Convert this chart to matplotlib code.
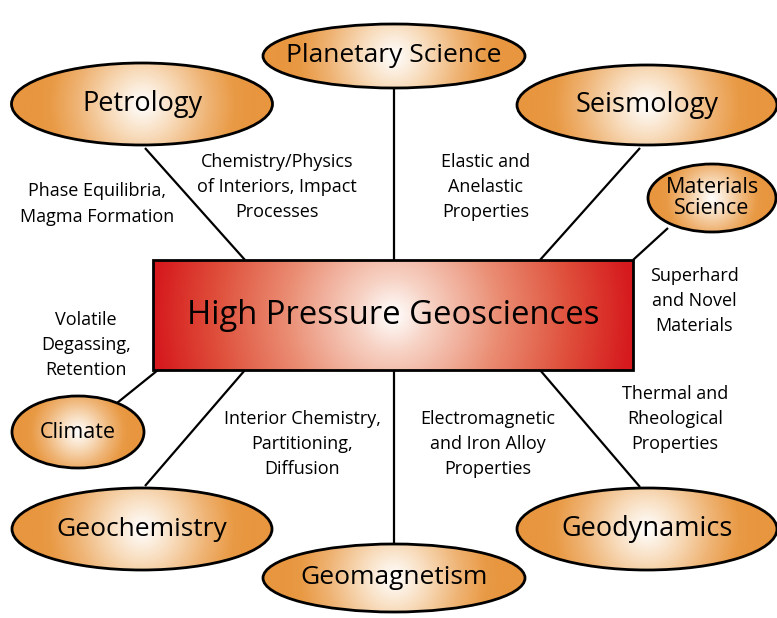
import numpy as np
import matplotlib
matplotlib.use("Agg")
import matplotlib.pyplot as plt
from matplotlib.patches import Ellipse, Rectangle
from matplotlib.colors import LinearSegmentedColormap

plt.rcParams['font.family'] = ['Open Sans', 'DejaVu Sans']

# --- nodes (pixel coords, y down) ---
node_names = ["Planetary Science", "Petrology", "Seismology", "Materials\nScience",
              "Climate", "Geochemistry", "Geomagnetism", "Geodynamics"]
node_x = [394, 142, 647, 712, 78, 142, 394, 647]
node_y = [56, 104, 105, 198, 432, 529, 578, 529]
node_w = [262, 261, 260, 128, 132, 260, 262, 260]
node_h = [64, 82, 80, 68, 72, 82, 68, 82]
node_fs = [19, 19.5, 19.5, 15.5, 15.5, 19, 19, 19.5]

# spokes from node to the central box
spoke_x0 = [394, 145, 640, 668, 117, 145, 394, 540]
spoke_y0 = [88, 148, 148, 228, 403, 486, 545, 370]
spoke_x1 = [394, 245, 540, 633, 158, 245, 394, 640]
spoke_y1 = [260, 260, 260, 260, 370, 370, 370, 487]

# topic labels
label_text = ["Phase Equilibria,\nMagma Formation",
              "Chemistry/Physics\nof Interiors, Impact\nProcesses",
              "Elastic and\nAnelastic\nProperties",
              "Superhard\nand Novel\nMaterials",
              "Volatile\nDegassing,\nRetention",
              "Interior Chemistry,\nPartitioning,\nDiffusion",
              "Electromagnetic\nand Iron Alloy\nProperties",
              "Thermal and\nRheological\nProperties"]
label_x = [97, 277, 486, 694, 86, 302, 488, 675]
label_y = [204, 187, 187, 301, 345, 444, 444, 419]

center_title = "High Pressure Geosciences"
box = (153, 260, 480, 110)  # x, y, w, h

orange_cmap = LinearSegmentedColormap.from_list(
    "orange", [(0, "#ffffff"), (0.3, "#f8dcbc"), (0.6, "#efb475"), (0.85, "#e99a45"), (1, "#e8963f")])
red_cmap = LinearSegmentedColormap.from_list(
    "red", [(0, "#ffffff"), (0.15, "#f7d3c5"), (0.45, "#ea8c72"), (0.75, "#df4e3a"), (1, "#d61a1e")])


def gradient_fill(ax, patch, x0, y0, w, h, cx, cy, sx, sy, cmap):
    n = 200
    xs = np.linspace(x0, x0 + w, n)
    ys = np.linspace(y0, y0 + h, n)
    X, Y = np.meshgrid(xs, ys)
    r = np.clip(np.sqrt(((X - cx) / sx) ** 2 + ((Y - cy) / sy) ** 2), 0, 1)
    im = ax.imshow(r, cmap=cmap, vmin=0, vmax=1, extent=(x0, x0 + w, y0 + h, y0),
                   origin='upper', interpolation='bilinear', zorder=2, aspect='auto')
    im.set_clip_path(patch)


fig = plt.figure(figsize=(7.77, 6.18), dpi=100)
ax = fig.add_axes([0, 0, 1, 1])
ax.set_xlim(0, 777)
ax.set_ylim(618, 0)
ax.axis('off')

for i in range(len(spoke_x0)):
    ax.plot([spoke_x0[i], spoke_x1[i]], [spoke_y0[i], spoke_y1[i]],
            color='black', lw=1.6, zorder=1, solid_capstyle='butt')

for i, name in enumerate(node_names):
    e = Ellipse((node_x[i], node_y[i]), node_w[i], node_h[i],
                facecolor='none', edgecolor='black', lw=2, zorder=3)
    ax.add_patch(e)
    gradient_fill(ax, e, node_x[i] - node_w[i] / 2, node_y[i] - node_h[i] / 2,
                  node_w[i], node_h[i], node_x[i], node_y[i],
                  node_w[i] * 0.42, node_w[i] * 0.42, orange_cmap)
    ax.text(node_x[i], node_y[i], name, ha='center', va='center',
            fontsize=node_fs[i], zorder=4, linespacing=1.0)

bx, by, bw, bh = box
rect = Rectangle((bx, by), bw, bh, facecolor='none', edgecolor='black', lw=2, zorder=3)
ax.add_patch(rect)
gradient_fill(ax, rect, bx, by, bw, bh, bx + bw / 2, by + bh / 2,
              bw / 2, bw / 2, red_cmap)
ax.text(bx + bw / 2, by + bh / 2, center_title, ha='center', va='center',
        fontsize=23.6, zorder=4)

for i, txt in enumerate(label_text):
    ax.text(label_x[i], label_y[i], txt, ha='center', va='center',
            fontsize=13, linespacing=1.5, zorder=4)

fig.savefig("out.png", dpi=100)
